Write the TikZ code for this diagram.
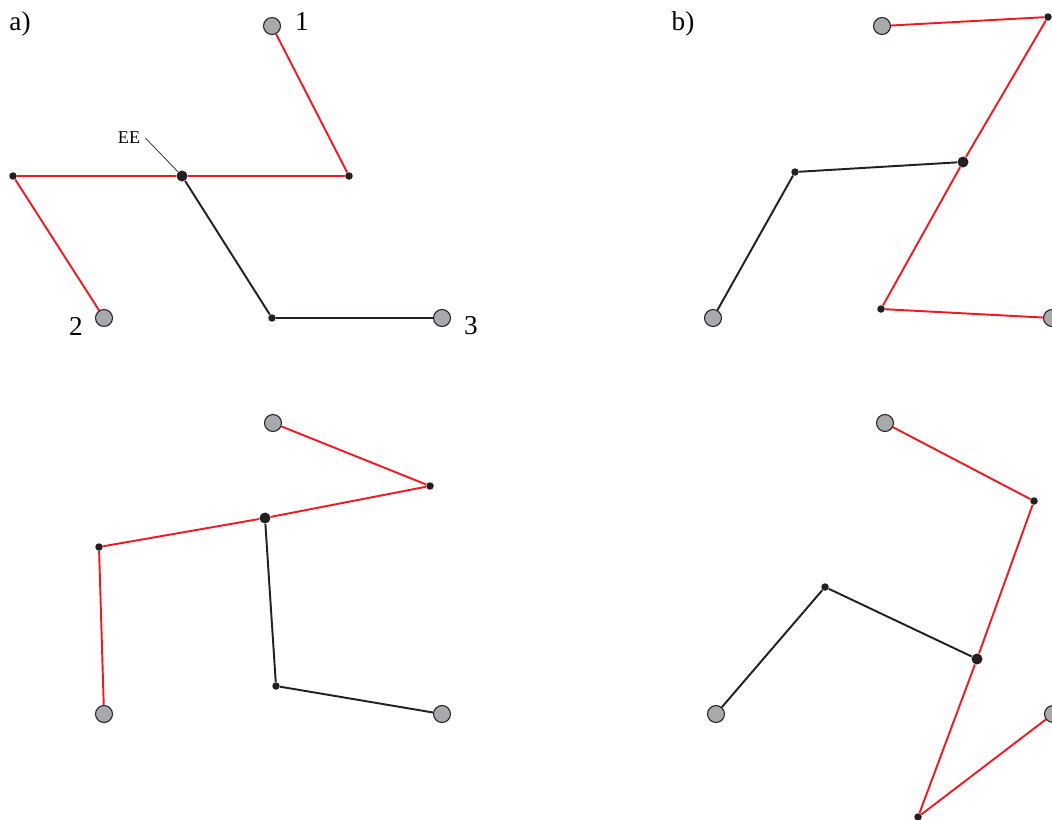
\documentclass[tikz,border=0pt]{standalone}
\usepackage{fontspec}
\setmainfont{Liberation Serif}
\definecolor{linkred}{RGB}{237,28,36}
\definecolor{basegray}{RGB}{167,169,172}
\definecolor{dotblack}{RGB}{35,31,32}

\begin{document}
\begin{tikzpicture}[
      x=0.2mm, y=-0.2mm,
      base/.style={circle, draw=dotblack, fill=basegray, line width=0.6pt, minimum size=3.4mm, inner sep=0pt},
      ee/.style={circle, fill=dotblack, minimum size=2.2mm, inner sep=0pt},
      joint/.style={circle, fill=dotblack, minimum size=1.5mm, inner sep=0pt},
      redlink/.style={draw=linkred, line width=1.1pt},
      blacklink/.style={draw=dotblack, line width=1.1pt},
      lbl/.style={font=\fontsize{15.5}{18}\selectfont, inner sep=0pt},
    ]
    \useasboundingbox (0,0) rectangle (1052,819);
    \clip (0,0) rectangle (1052,819);

    % a) top
    \node[lbl] (la) at (20,23.5) {a)};
    \node[base] (aB1) at (272,26) {};
    \node[base] (aB2) at (104,318) {};
    \node[base] (aB3) at (442,318) {};
    \node[joint] (aJ1) at (349,176) {};
    \node[joint] (aJ2) at (13,176) {};
    \node[joint] (aJ3) at (272,318) {};
    \node[ee] (aE) at (182,176) {};
    \draw[redlink] (aB1) -- (aJ1) -- (aE);
    \draw[redlink] (aB2) -- (aJ2) -- (aE);
    \draw[blacklink] (aB3) -- (aJ3) -- (aE);
    \node[lbl] (n1) at (302,22) {1};
    \node[lbl] (n2) at (76,326) {2};
    \node[lbl] (n3) at (471,326) {3};
    \node[font=\fontsize{10.3}{12}\selectfont, inner sep=0pt] (eeText) at (129,138) {EE};
    \draw[dotblack, line width=0.4pt] ([xshift=1mm]eeText.east) -- (aE);

    % a) bottom
    \node[base] (cB1) at (273,423) {};
    \node[base] (cB2) at (104,714) {};
    \node[base] (cB3) at (442,714) {};
    \node[joint] (cJ1) at (430,486) {};
    \node[joint] (cJ2) at (99,547) {};
    \node[joint] (cJ3) at (276,686) {};
    \node[ee] (cE) at (265,518) {};
    \draw[redlink] (cB1) -- (cJ1) -- (cE);
    \draw[redlink] (cB2) -- (cJ2) -- (cE);
    \draw[blacklink] (cB3) -- (cJ3) -- (cE);

    % b) top
    \node[lbl] (lb) at (683,23.5) {b)};
    \node[base] (bB1) at (882,26) {};
    \node[base] (bB2) at (1052,318) {};
    \node[base] (bB3) at (713,318) {};
    \node[joint] (bJ1) at (1048,17) {};
    \node[joint] (bJ2) at (881,309) {};
    \node[joint] (bJ3) at (795,172) {};
    \node[ee] (bE) at (963,162) {};
    \draw[redlink] (bB1) -- (bJ1) -- (bE);
    \draw[redlink] (bB2) -- (bJ2) -- (bE);
    \draw[blacklink] (bB3) -- (bJ3) -- (bE);

    % b) bottom
    \node[base] (dB1) at (885,423) {};
    \node[base] (dB2) at (1053,714) {};
    \node[base] (dB3) at (716,714) {};
    \node[joint] (dJ1) at (1034,501) {};
    \node[joint] (dJ2) at (918,817) {};
    \node[joint] (dJ3) at (825,587) {};
    \node[ee] (dE) at (977,659) {};
    \draw[redlink] (dB1) -- (dJ1) -- (dE);
    \draw[redlink] (dB2) -- (dJ2) -- (dE);
    \draw[blacklink] (dB3) -- (dJ3) -- (dE);
\end{tikzpicture}
\end{document}
